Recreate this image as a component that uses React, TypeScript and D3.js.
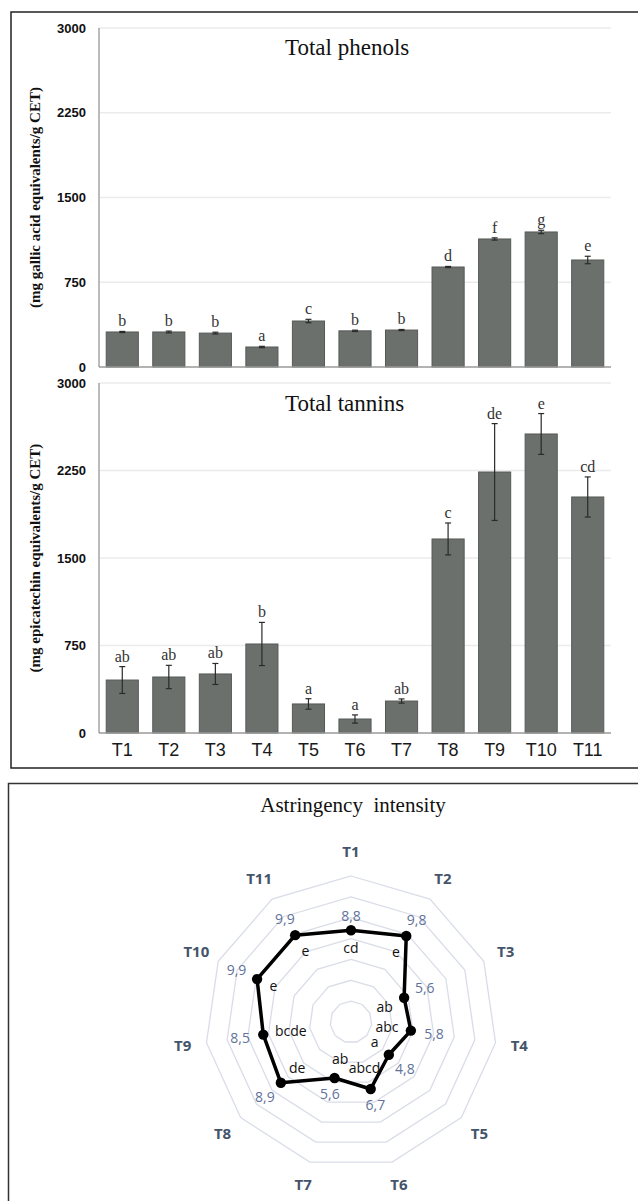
import * as d3 from "d3";

// treatments shared by all three panels
const treatments = ["T1", "T2", "T3", "T4", "T5", "T6", "T7", "T8", "T9", "T10", "T11"];

// Total phenols (mg gallic acid eq / g CET)
const phenolValues = [310, 310, 300, 177, 407, 320, 327, 885, 1133, 1195, 947];
const phenolErrors = [5, 8, 8, 6, 15, 6, 5, 5, 10, 15, 33];
const phenolLetters = ["b", "b", "b", "a", "c", "b", "b", "d", "f", "g", "e"];

// Total tannins (mg epicatechin eq / g CET)
const tanninValues = [454, 480, 506, 763, 249, 120, 274, 1663, 2237, 2563, 2023];
const tanninErrors = [115, 100, 90, 185, 45, 35, 18, 137, 415, 175, 172];
const tanninLetters = ["ab", "ab", "ab", "b", "a", "a", "ab", "c", "de", "e", "cd"];

const yTicks = [0, 750, 1500, 2250, 3000];

// Astringency intensity (radar)
const astringency = [8.8, 9.8, 5.6, 5.8, 4.8, 6.7, 5.6, 8.9, 8.5, 9.9, 9.9];
const astringencyLetters = ["cd", "e", "ab", "abc", "a", "abcd", "ab", "de", "bcde", "e", "e"];
const radarRings = [2, 4, 6, 8, 10, 12, 14];

const W = 638;
const H = 1201;
const serif = "'Liberation Serif', 'Times New Roman', serif";
const sans = "'Liberation Sans', Arial, sans-serif";
const calibri = "'Open Sans', 'Noto Sans', sans-serif";

const x = d3
  .scaleBand()
  .domain(treatments)
  .range([99, 611])
  .paddingInner(0.31)
  .paddingOuter(0.155);

function BarPanel({ values, errors, letters, top, bottom, title, titleY, yTitle, showX }) {
  const y = d3.scaleLinear().domain([0, 3000]).range([bottom, top]);
  return (
    <g>
      {/* gridlines */}
      {yTicks.slice(1).map((t) => (
        <line key={t} x1={99} x2={611} y1={y(t)} y2={y(t)} stroke="#ebebeb" strokeWidth={1.5} />
      ))}
      {/* tick labels */}
      {yTicks.map((t) => (
        <text
          key={t}
          x={86}
          y={y(t)}
          dy="0.35em"
          textAnchor="end"
          fontFamily={sans}
          fontWeight="bold"
          fontSize={13}
          fill="#111"
        >
          {t}
        </text>
      ))}
      {/* bars */}
      {values.map((v, i) => (
        <rect
          key={i}
          x={x(treatments[i])}
          y={y(v)}
          width={x.bandwidth()}
          height={y(0) - y(v)}
          fill="#6b706d"
          stroke="#555a57"
          strokeWidth={1}
        />
      ))}
      {/* error bars */}
      {values.map((v, i) => {
        const cx = x(treatments[i]) + x.bandwidth() / 2;
        const e = errors[i];
        return (
          <g key={i} stroke="#2a2a2a" strokeWidth={1.2}>
            <line x1={cx} x2={cx} y1={y(v + e)} y2={y(v - e)} />
            <line x1={cx - 3} x2={cx + 3} y1={y(v + e)} y2={y(v + e)} />
            <line x1={cx - 3} x2={cx + 3} y1={y(v - e)} y2={y(v - e)} />
          </g>
        );
      })}
      {/* significance letters */}
      {values.map((v, i) => (
        <text
          key={i}
          x={x(treatments[i]) + x.bandwidth() / 2}
          y={y(v + errors[i]) - 5}
          textAnchor="middle"
          fontFamily={serif}
          fontSize={16}
          fill="#333"
        >
          {letters[i]}
        </text>
      ))}
      {/* axes */}
      <line x1={99} x2={99} y1={top} y2={bottom} stroke="#a5a5a5" strokeWidth={1.5} />
      <line x1={99} x2={611} y1={bottom} y2={bottom} stroke="#9a9a9a" strokeWidth={1.5} />
      {showX &&
        treatments.map((t) => (
          <text
            key={t}
            x={x(t) + x.bandwidth() / 2}
            y={bottom + 23}
            textAnchor="middle"
            fontFamily={sans}
            fontSize={18}
            fill="#1a1a1a"
          >
            {t}
          </text>
        ))}
      <text x={285} y={titleY} fontFamily={serif} fontSize={23} fill="#111">
        {title}
      </text>
      <text
        transform={`translate(40,${(top + bottom) / 2}) rotate(-90)`}
        textAnchor="middle"
        fontFamily={serif}
        fontWeight="bold"
        fontSize={15}
        fill="#111"
      >
        {yTitle}
      </text>
    </g>
  );
}

function Radar() {
  const cx = 351;
  const cy = 1022;
  const r = d3.scaleLinear().domain([0, 14]).range([0, 146]);
  const step = (2 * Math.PI) / treatments.length;
  const ring = d3
    .lineRadial()
    .angle((_, i) => i * step)
    .radius((d) => r(d))
    .curve(d3.curveLinearClosed);
  const pt = (v, i) => [cx + r(v) * Math.sin(i * step), cy - r(v) * Math.cos(i * step)];

  return (
    <g>
      <text
        x={353}
        y={812}
        textAnchor="middle"
        fontFamily={serif}
        fontSize={21}
        fill="#111"
        style={{ whiteSpace: "pre" }}
      >
        {"Astringency  intensity"}
      </text>
      <g transform={`translate(${cx},${cy})`}>
        {radarRings.map((v) => (
          <path
            key={v}
            d={ring(treatments.map(() => v))}
            fill="none"
            stroke="#d9dde7"
            strokeWidth={1.3}
          />
        ))}
        <path d={ring(astringency)} fill="none" stroke="#000" strokeWidth={3.5} strokeLinejoin="round" />
      </g>
      {astringency.map((v, i) => {
        const [px, py] = pt(v, i);
        return <circle key={i} cx={px} cy={py} r={5.2} fill="#000" />;
      })}
      {treatments.map((t, i) => {
        const a = i * step;
        return (
          <text
            key={t}
            x={cx + 170 * Math.sin(a)}
            y={cy - 170 * Math.cos(a)}
            dy="0.35em"
            textAnchor="middle"
            fontFamily={calibri}
            fontWeight="bold"
            fontSize={15}
            fill="#44546a"
          >
            {t}
          </text>
        );
      })}
      {/* value labels, outward */}
      {astringency.map((v, i) => {
        const a = i * step;
        const [px, py] = pt(v, i);
        const s = Math.sin(a);
        const c = Math.cos(a);
        const d = 14 + 9.5 * Math.abs(s);
        return (
          <text
            key={i}
            x={px + d * s}
            y={py - d * c}
            dy="0.35em"
            textAnchor="middle"
            fontFamily={calibri}
            fontSize={14}
            fill="#62729a"
          >
            {v.toFixed(1).replace(".", ",")}
          </text>
        );
      })}
      {/* letters, inward */}
      {astringencyLetters.map((l, i) => {
        const a = i * step;
        const [px, py] = pt(astringency[i], i);
        const s = Math.sin(a);
        const c = Math.cos(a);
        const w = l.length * 7.6;
        const d = 12 + (w / 2) * Math.abs(s) + 6 * Math.abs(c);
        return (
          <text
            key={i}
            x={px - d * s}
            y={py + d * c}
            dy="0.35em"
            textAnchor="middle"
            fontFamily={calibri}
            fontSize={14}
            fill="#111"
          >
            {l}
          </text>
        );
      })}
    </g>
  );
}

export default function App() {
  return (
    <svg
      width={W}
      height={H}
      viewBox={`0 0 ${W} ${H}`}
      style={{ position: "absolute", left: 0, top: 0, background: "#fff" }}
    >
      <rect x={0} y={0} width={W} height={H} fill="#fff" />
      {/* frames */}
      <rect x={11} y={12} width={640} height={756} fill="none" stroke="#222" strokeWidth={1.5} />
      <rect x={8.5} y={783.5} width={640} height={500} fill="none" stroke="#333" strokeWidth={1.5} />

      <BarPanel
        values={phenolValues}
        errors={phenolErrors}
        letters={phenolLetters}
        top={28}
        bottom={367}
        title="Total phenols"
        titleY={55}
        yTitle="(mg gallic acid equivalents/g CET)"
        showX={false}
      />
      <BarPanel
        values={tanninValues}
        errors={tanninErrors}
        letters={tanninLetters}
        top={383}
        bottom={733}
        title="Total tannins"
        titleY={411}
        yTitle="(mg epicatechin equivalents/g CET)"
        showX={true}
      />
      <Radar />
    </svg>
  );
}
